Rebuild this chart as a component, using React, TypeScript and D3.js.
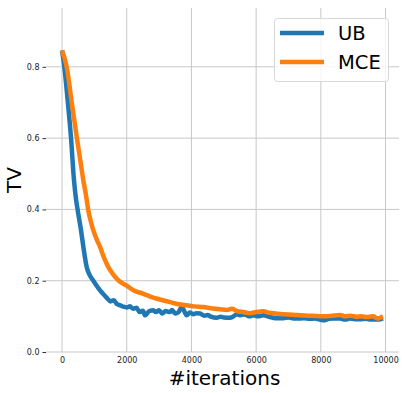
import React, { useEffect, useRef } from 'react'
import * as d3 from 'd3'

// iterations vs TV
const ubX = [0, 70, 170, 278, 371, 430, 485, 587, 659, 763, 860, 968, 1070, 1175, 1280, 1381, 1500, 1600, 1700, 1800, 1900, 2000, 2100, 2200, 2300, 2400, 2500, 2566, 2700, 2823, 2900, 3000, 3100, 3200, 3338, 3400, 3500, 3600, 3700, 3854, 3950, 4050, 4150, 4266, 4400, 4500, 4600, 4782, 4900, 5000, 5193, 5300, 5400, 5500, 5650, 5800, 5913, 6050, 6223, 6400, 6600, 6841, 7000, 7200, 7357, 7500, 7650, 7800, 8078, 8250, 8400, 8594, 8750, 8900, 9050, 9212, 9400, 9550, 9728, 9850, 9920]
const ubY = [0.846, 0.8, 0.71, 0.6, 0.48, 0.43, 0.397, 0.341, 0.295, 0.238, 0.215, 0.2, 0.186, 0.173, 0.162, 0.152, 0.142, 0.145, 0.134, 0.131, 0.127, 0.125, 0.128, 0.121, 0.124, 0.112, 0.116, 0.103, 0.115, 0.117, 0.112, 0.117, 0.108, 0.115, 0.112, 0.118, 0.108, 0.112, 0.126, 0.103, 0.111, 0.106, 0.109, 0.108, 0.102, 0.104, 0.099, 0.096, 0.099, 0.097, 0.096, 0.1, 0.106, 0.103, 0.105, 0.1, 0.103, 0.1, 0.103, 0.099, 0.095, 0.095, 0.097, 0.094, 0.094, 0.095, 0.093, 0.094, 0.089, 0.093, 0.094, 0.094, 0.091, 0.094, 0.092, 0.092, 0.093, 0.091, 0.091, 0.092, 0.094]

const mceX = [0, 144, 300, 454, 560, 659, 740, 813, 890, 968, 1070, 1175, 1300, 1432, 1580, 1741, 2000, 2204, 2500, 2773, 3000, 3338, 3600, 3854, 4100, 4370, 4600, 4884, 5100, 5250, 5400, 5600, 5811, 6000, 6223, 6400, 6600, 6841, 7000, 7200, 7357, 7600, 7872, 8100, 8300, 8594, 8750, 8903, 9100, 9250, 9419, 9600, 9777, 9850, 9920]
const mceY = [0.846, 0.8, 0.7, 0.603, 0.54, 0.481, 0.44, 0.397, 0.366, 0.341, 0.316, 0.295, 0.264, 0.238, 0.218, 0.201, 0.186, 0.173, 0.164, 0.154, 0.148, 0.14, 0.134, 0.131, 0.128, 0.126, 0.123, 0.12, 0.118, 0.121, 0.115, 0.112, 0.109, 0.112, 0.114, 0.11, 0.108, 0.106, 0.105, 0.104, 0.103, 0.102, 0.101, 0.1, 0.101, 0.104, 0.1, 0.102, 0.099, 0.1, 0.098, 0.1, 0.094, 0.097, 0.1]

const xTicks = [0, 2000, 4000, 6000, 8000, 10000]
const yTicks = [0.0, 0.2, 0.4, 0.6, 0.8]
const seriesNames = ['UB', 'MCE']
const seriesColors = ['#1f77b4', '#ff7f0e']

const W = 407, H = 393
const margin = { top: 8, right: 8, bottom: 41, left: 46 }

export default function App() {
  const ref = useRef<SVGSVGElement>(null)

  useEffect(() => {
    const svg = d3.select(ref.current)
    svg.selectAll('*').remove()

    const x = d3.scaleLinear([-496, 10416], [margin.left, W - margin.right])
    const y = d3.scaleLinear([0, 0.965], [H - margin.bottom, margin.top])

    const font = 'DejaVu Sans, sans-serif'
    const grid = svg.append('g').attr('stroke', '#c8c8c8').attr('stroke-width', 1)
    grid.selectAll('.v').data(xTicks).join('line')
      .attr('x1', d => x(d)).attr('x2', d => x(d))
      .attr('y1', margin.top).attr('y2', H - margin.bottom)
    grid.selectAll('.h').data(yTicks).join('line')
      .attr('x1', margin.left).attr('x2', W - margin.right)
      .attr('y1', d => y(d)).attr('y2', d => y(d))

    // y ticks: tiny dashes, no spine
    const yAxis = svg.append('g').attr('transform', `translate(${margin.left},0)`)
      .call(d3.axisLeft(y).tickValues(yTicks).tickFormat(d3.format('.1f')).tickSize(3.5).tickPadding(3))
    yAxis.select('.domain').remove()
    yAxis.selectAll('text').attr('font-size', 8).attr('font-family', font).attr('fill', '#222')
    yAxis.selectAll('line').attr('stroke', '#333')

    const xAxis = svg.append('g').attr('transform', `translate(0,${H - margin.bottom})`)
      .call(d3.axisBottom(x).tickValues(xTicks).tickFormat(d3.format('d')).tickSize(0).tickPadding(5))
    xAxis.select('.domain').remove()
    xAxis.selectAll('text').attr('font-size', 8).attr('font-family', font).attr('fill', '#222')

    const series = [
      ubX.map((v, i) => [v, ubY[i]] as [number, number]),
      mceX.map((v, i) => [v, mceY[i]] as [number, number]),
    ]
    const line = d3.line<[number, number]>().x(d => x(d[0])).y(d => y(d[1])).curve(d3.curveMonotoneX)
    svg.append('g').selectAll('path').data(series).join('path')
      .attr('d', d => line(d))
      .attr('fill', 'none')
      .attr('stroke', (d, i) => seriesColors[i])
      .attr('stroke-width', 4.5)
      .attr('stroke-linejoin', 'round')

    svg.append('text').attr('x', (margin.left + W - margin.right) / 2 + 2).attr('y', 385)
      .attr('text-anchor', 'middle').attr('font-size', 20).attr('font-family', font)
      .text('#iterations')
    svg.append('text').attr('transform', `translate(21,180) rotate(-90)`)
      .attr('text-anchor', 'middle').attr('font-size', 20).attr('font-family', font)
      .text('TV')

    const lg = svg.append('g')
    lg.append('rect').attr('x', 274.5).attr('y', 18.5).attr('width', 114).attr('height', 63)
      .attr('rx', 3).attr('fill', 'white').attr('fill-opacity', 0.8).attr('stroke', '#d8d8d8')
    seriesNames.forEach((name, i) => {
      const yy = 33 + i * 29
      lg.append('line').attr('x1', 280).attr('x2', 324).attr('y1', yy).attr('y2', yy)
        .attr('stroke', seriesColors[i]).attr('stroke-width', 4.5)
      lg.append('text').attr('x', 338).attr('y', yy + 7).attr('font-size', 19.5)
        .attr('font-family', font).text(name)
    })
  }, [])

  return <svg ref={ref} width={W} height={H} style={{ position: 'absolute', left: 0, top: 0, background: 'white' }} />
}
